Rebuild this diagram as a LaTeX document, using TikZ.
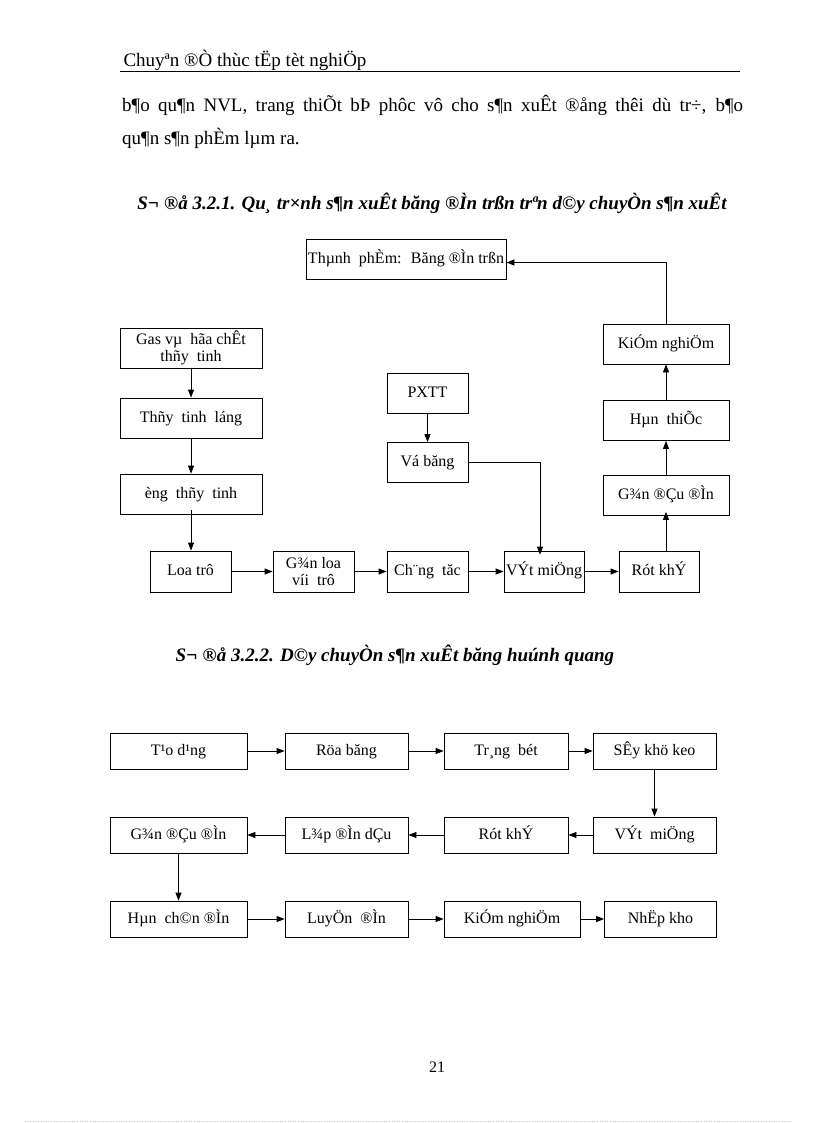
\documentclass[tikz,border=0pt]{standalone}
\usepackage{fontspec}
\setmainfont{Liberation Serif}
\usetikzlibrary{arrows.meta, positioning, calc}

\begin{document}
\begin{tikzpicture}[x=1pt, y=-1pt, >={Triangle[length=8pt, width=6pt]},
    twobox/.style={draw, line width=0.8pt, minimum height=40pt, inner sep=2pt, align=center, font=\fontsize{16}{17}\selectfont},
    box/.style={twobox, text height=11.5pt, text depth=3.5pt},
    lowbox/.style={box, minimum height=36pt},
    flow/.style={->, line width=0.8pt},
    heading/.style={font=\fontsize{19}{22}\selectfont\bfseries\itshape}]
\useasboundingbox (0,0) rectangle (816,1123);
% page head and text
\node[anchor=west, font=\fontsize{19}{22}\selectfont] (head) at (120,60) {Chuyªn ®Ò thùc tËp tèt nghiÖp};
\draw[line width=0.8pt] (120,71) -- (740,71);
\node[anchor=west, inner sep=0pt, font=\fontsize{19}{22}\selectfont] (text1) at (122,105) {\makebox[621pt][s]{b¶o qu¶n NVL, trang thiÕt bÞ phôc vô cho s¶n xuÊt ®ång thêi dù tr÷, b¶o}};
\node[anchor=west, inner sep=0pt, font=\fontsize{19}{22}\selectfont] (text2) at (122,138) {qu¶n s¶n phÈm lµm ra.};
\node[heading] (title1) at (432,203) {S¬ ®å 3.2.1. Qu¸ tr×nh s¶n xuÊt băng ®Ìn trßn trªn d©y chuyÒn s¶n xuÊt};

% so do 3.2.1
\node[box, minimum width=200pt] (thanhpham) at (406,259.5) {Thµnh~ phÈm:~ Băng ®Ìn trßn};
\node[twobox, minimum width=142pt] (gas) at (191,348) {Gas vµ~ hãa chÊt\\thñy~ tinh};
\node[box, minimum width=142pt] (thuylong) at (191,418) {Thñy~ tinh~ láng};
\node[box, minimum width=142pt] (ongthuy) at (191,494) {èng~ thñy~ tinh};
\node[box, minimum width=81pt, minimum height=41pt] (loatru) at (190.5,571.5) {Loa trô};
\node[twobox, minimum width=81pt, minimum height=41pt] (ganloa) at (313.5,571.5) {G¾n loa\\víi~ trô};
\node[box, minimum width=81pt, minimum height=41pt] (chungtac) at (427.5,571.5) {Ch¨ng~ tăc};
\node[box, minimum width=80pt, minimum height=41pt] (vitmieng) at (544,571.5) {VÝt miÖng};
\node[box, minimum width=80pt, minimum height=41pt] (rotkhi) at (659,571.5) {Rót khÝ};
\node[box, minimum width=81pt] (pxtt) at (427.5,393) {PXTT};
\node[box, minimum width=81pt] (vobang) at (427.5,462.5) {Vá băng};
\node[box, minimum width=126pt] (gandau) at (666,495.5) {G¾n ®Çu ®Ìn};
\node[box, minimum width=126pt] (hanthiec) at (666,420.5) {Hµn~ thiÕc};
\node[box, minimum width=126pt] (kiemnghiem) at (666,344) {KiÓm nghiÖm};

\draw[flow] (gas) -- (thuylong);
\draw[flow] (thuylong) -- (ongthuy);
\draw[flow] ([yshift=4pt]ongthuy.south) -- (ongthuy.south |- loatru.north);
\draw[flow] (loatru) -- (ganloa);
\draw[flow] (ganloa) -- (chungtac);
\draw[flow] (chungtac) -- (vitmieng);
\draw[flow] (vitmieng) -- (rotkhi);
\draw[flow] (pxtt) -- (vobang);
\draw[flow] (vobang.east) -| ([xshift=-4pt, yshift=-4pt]vitmieng.north);
\draw[flow] (gandau.south |- rotkhi.north) -- ([yshift=4pt]gandau.south);
\draw[flow] (gandau) -- (hanthiec);
\draw[flow] (hanthiec) -- (kiemnghiem);
\draw[flow] (kiemnghiem.north) |- ([yshift=-3pt]thanhpham.east);

% so do 3.2.2
\node[heading] (title2) at (395,655) {S¬ ®å 3.2.2. D©y chuyÒn s¶n xuÊt băng huúnh quang};
\node[lowbox, minimum width=137pt] (taodung) at (178.5,751) {T¹o d¹ng};
\node[lowbox, minimum width=123pt] (ruabang) at (346.5,751) {Röa băng};
\node[lowbox, minimum width=124pt] (trangbot) at (506,751) {Tr¸ng~ bét};
\node[lowbox, minimum width=123pt] (saykho) at (654.5,751) {SÊy khö keo};
\node[lowbox, minimum width=137pt] (gandenb) at (178.5,835) {G¾n ®Çu ®Ìn};
\node[lowbox, minimum width=123pt] (lapden) at (346.5,835) {L¾p ®Ìn dÇu};
\node[lowbox, minimum width=124pt] (rotkhib) at (506,835) {Rót khÝ};
\node[lowbox, minimum width=123pt] (vitmiengb) at (654.5,835) {VÝt~ miÖng};
\node[lowbox, minimum width=137pt] (hanchan) at (178.5,919) {Hµn~ ch©n ®Ìn};
\node[lowbox, minimum width=123pt] (luyenden) at (346.5,919) {LuyÖn~ ®Ìn};
\node[lowbox, minimum width=136pt] (kiemnghiemb) at (512,919) {KiÓm nghiÖm};
\node[lowbox, minimum width=112pt] (nhapkho) at (660.5,919) {NhËp kho};

\draw[flow] (taodung) -- (ruabang);
\draw[flow] (ruabang) -- (trangbot);
\draw[flow] (trangbot) -- (saykho);
\draw[flow] (saykho) -- (vitmiengb);
\draw[flow] (vitmiengb) -- (rotkhib);
\draw[flow] (rotkhib) -- (lapden);
\draw[flow] (lapden) -- (gandenb);
\draw[flow] (gandenb) -- (hanchan);
\draw[flow] (hanchan) -- (luyenden);
\draw[flow] (luyenden) -- (kiemnghiemb);
\draw[flow] (kiemnghiemb) -- (nhapkho);

% page foot
\node[font=\fontsize{16}{18}\selectfont] (pageno) at (437,1067) {21};
\draw[gray!50, line width=0.6pt, dotted] (25,1121) -- (790,1121);
\end{tikzpicture}
\end{document}
